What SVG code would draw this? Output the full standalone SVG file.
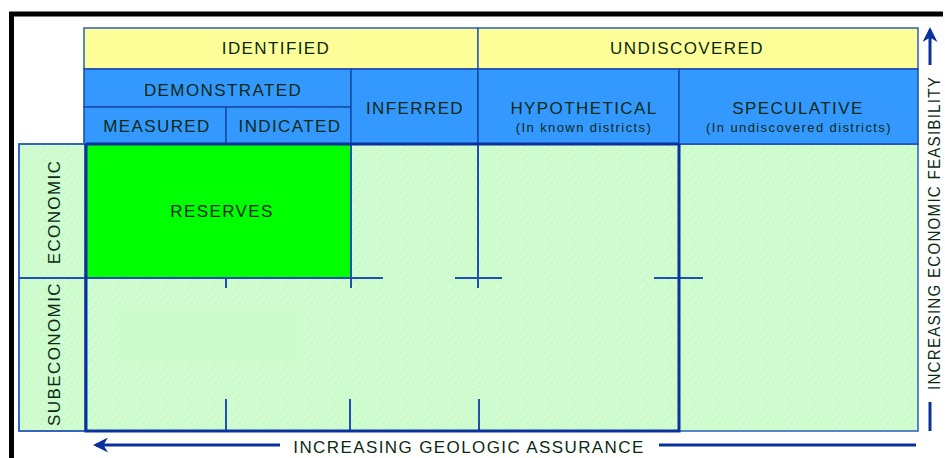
<svg xmlns="http://www.w3.org/2000/svg" width="945" height="458" viewBox="0 0 945 458">
<style>
.t{font-family:"Liberation Sans",Arial,sans-serif;font-size:17px;fill:#0b2a12;text-anchor:middle;letter-spacing:1.4px}
.s{font-family:"Liberation Sans",Arial,sans-serif;font-size:13px;fill:#0b2a12;text-anchor:middle;letter-spacing:1.4px}
.y{fill:#ffff99;stroke:#2a5cb8;stroke-width:1.5}
.b{fill:#3399ff;stroke:#1a4aa8;stroke-width:1.5}
.thin{stroke:#2050b0;stroke-width:2;fill:none}
.thick{stroke:#0a329e;stroke-width:3;fill:none}
.ax{stroke:#0a329e;stroke-width:3;fill:none}
</style>
<defs>
<pattern id="dots" width="12" height="10" patternUnits="userSpaceOnUse">
<rect width="12" height="10" fill="#ccfccc"/>
<circle cx="2" cy="2" r="0.8" fill="#ffffff" opacity="0.8"/>
<circle cx="8" cy="4" r="0.8" fill="#ffffff" opacity="0.8"/>
<circle cx="5" cy="7" r="0.8" fill="#ffffff" opacity="0.8"/>
<circle cx="11" cy="9" r="0.7" fill="#ffffff" opacity="0.7"/>
</pattern>
<marker id="ah" viewBox="0 0 10 10" refX="8" refY="5" markerWidth="5" markerHeight="5" orient="auto-start-reverse">
<path d="M0,0 L10,5 L0,10 L3,5 z" fill="#0a329e"/>
</marker>
</defs>
<rect width="945" height="458" fill="#ffffff"/>
<path d="M11.5,458 V14 H943" stroke="#000" stroke-width="5" fill="none"/>

<g id="body-bg">
<rect x="19" y="144" width="899" height="287" fill="url(#dots)" stroke="#2a5cb8" stroke-width="1.5"/>
<rect x="120" y="312" width="182" height="48" fill="#ccfccc"/>
</g>

<g id="identified"><rect class="y" x="84" y="28" width="394" height="41"/><text class="t" x="276" y="54">IDENTIFIED</text></g>
<g id="undiscovered"><rect class="y" x="478" y="28" width="440" height="41"/><text class="t" x="687" y="54">UNDISCOVERED</text></g>
<g id="demonstrated"><rect class="b" x="84" y="69" width="267" height="38"/><text class="t" x="223" y="96">DEMONSTRATED</text></g>
<g id="measured"><rect class="b" x="84" y="107" width="142" height="37"/><text class="t" x="157" y="132">MEASURED</text></g>
<g id="indicated"><rect class="b" x="226" y="107" width="125" height="37"/><text class="t" x="290" y="132">INDICATED</text></g>
<g id="inferred"><rect class="b" x="351" y="69" width="127" height="75"/><text class="t" x="415" y="114">INFERRED</text></g>
<g id="hypothetical"><rect class="b" x="478" y="69" width="201" height="75"/><text class="t" x="584" y="114">HYPOTHETICAL</text><text class="s" x="584" y="132">(In known districts)</text></g>
<g id="speculative"><rect class="b" x="679" y="69" width="239" height="75"/><text class="t" x="798" y="114">SPECULATIVE</text><text class="s" x="799" y="132" letter-spacing="1.1">(In undiscovered districts)</text></g>

<g id="economic"><rect x="19" y="144" width="66" height="134" fill="none" stroke="#2a5cb8" stroke-width="1.5"/><text class="t" transform="translate(60,212) rotate(-90)">ECONOMIC</text></g>
<g id="subeconomic"><rect x="19" y="278" width="66" height="153" fill="none" stroke="#2a5cb8" stroke-width="1.5"/><text class="t" transform="translate(60,354) rotate(-90)">SUBECONOMIC</text></g>
<g id="reserves"><rect x="86" y="145" width="265" height="133" fill="#00ff00"/><text class="t" x="222" y="217">RESERVES</text></g>

<g id="connectors">
<path class="thin" d="M19,278 H383 M455,278 H502 M654,278 H703"/>
<path class="thin" d="M351,145 V288 M226,278 V288 M478,144 V288"/>
<path class="thin" d="M226,399 V431 M350,399 V431 M479,399 V431"/>
<path class="thick" d="M86,144 H679 M86,144 V431 H679 V144"/>
<path class="ax" d="M280,445 H96" marker-end="url(#ah)"/>
<path class="ax" d="M659,445 H916"/>
<path class="ax" d="M930,65 V30" marker-end="url(#ah)"/>
<path class="ax" d="M930,402 V431"/>
</g>
<g id="axis-labels">
<text class="t" x="469" y="453">INCREASING GEOLOGIC ASSURANCE</text>
<text class="t" transform="translate(940,233) rotate(-90)" letter-spacing="0" textLength="314" lengthAdjust="spacingAndGlyphs">INCREASING ECONOMIC FEASIBILITY</text>
</g>
</svg>
